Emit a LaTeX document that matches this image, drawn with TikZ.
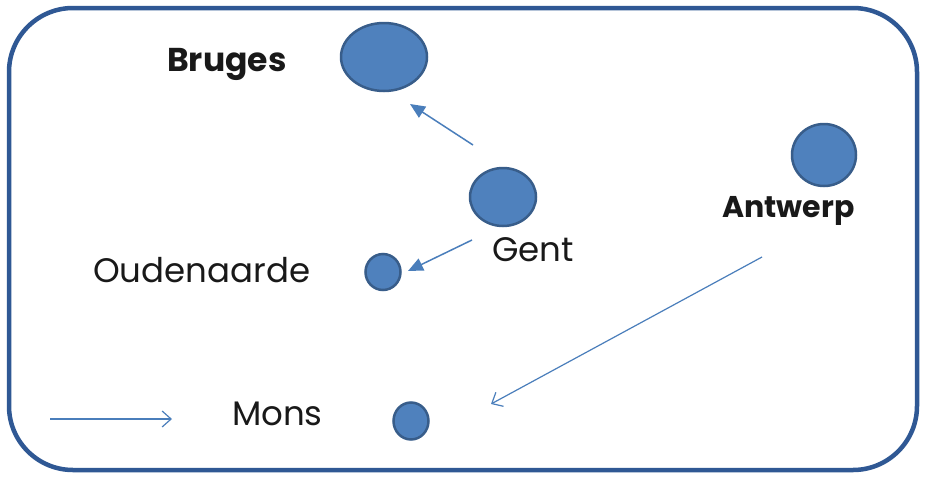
\documentclass[tikz,border=0pt]{standalone}
\usepackage{fontspec}
\setmainfont{Poppins}
\usetikzlibrary{arrows.meta,shapes.geometric}
\definecolor{framec}{HTML}{2F5894}
\definecolor{cityfill}{HTML}{4F81BD}
\definecolor{cityline}{HTML}{385D8A}
\definecolor{arrowc}{HTML}{4A7EBB}
\begin{document}
\begin{tikzpicture}[x=1pt,y=-1pt,
  city/.style={ellipse, draw=cityline, fill=cityfill, line width=2.5pt, inner sep=0pt},
  lbl/.style={anchor=base west, inner sep=0pt, font=\fontsize{34}{40}\selectfont, text=black!90},
  blbl/.style={anchor=base west, inner sep=0pt, font=\fontsize{33}{40}\selectfont\bfseries, text=black!90},
  filledarrow/.style={draw=arrowc, line width=1.5pt, -{Triangle[length=15pt,width=13pt]}},
  openarrow/.style={draw=arrowc, line width=1.2pt, -{Straight Barb[length=9pt,width=16pt]}}
]
\useasboundingbox (0,0) rectangle (927,477);
\fill[white] (0,0) rectangle (927,477);
\draw[framec, line width=4.5pt, rounded corners=64pt] (9,8) rectangle (917,470);

\node[city, minimum width=86pt, minimum height=68pt] (bruges) at (384,57) {};
\node[city, minimum width=66pt, minimum height=58pt] (gent) at (503,197) {};
\node[city, minimum width=64pt, minimum height=62pt] (antwerp) at (824,155) {};
\node[city, minimum width=35pt, minimum height=36pt] (oudenaarde) at (383,272) {};
\node[city, minimum width=35pt, minimum height=37pt] (mons) at (411,421) {};

\node[blbl] (tbruges) at (167,71) {Bruges};
\node[lbl] (tgent) at (492,261) {Gent};
\node[blbl, font=\fontsize{30}{36}\selectfont\bfseries] (tantwerp) at (722,217) {Antwerp};
\node[lbl] (toud) at (93,282) {Oudenaarde};
\node[lbl] (tmons) at (232,425) {Mons};

\coordinate (g1) at (473,145);
\coordinate (b1) at (410,104);
\coordinate (g2) at (472,240);
\coordinate (o1) at (408,271);
\coordinate (a1) at (762,257);
\coordinate (m1) at (491,404);
\coordinate (l1) at (50,419);
\coordinate (l2) at (172,419);

\draw[filledarrow] (g1) -- (b1);
\draw[filledarrow] (g2) -- (o1);
\draw[openarrow] (a1) -- (m1);
\draw[openarrow] (l1) -- (l2);
\end{tikzpicture}
\end{document}
